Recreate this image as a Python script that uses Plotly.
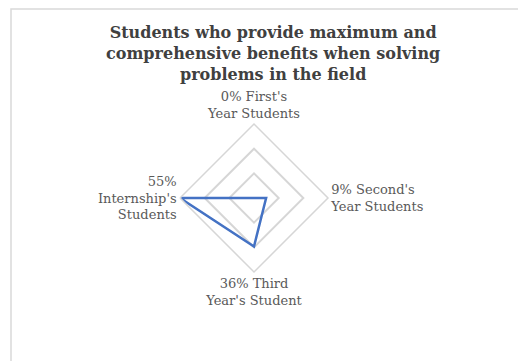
import plotly.graph_objects as go

categories = ["0% First's<br>Year Students", "9% Second's<br>Year Students",
              "36% Third<br>Year's Student", "55%<br>Internship's<br>Students"]
values = [0, 9, 36, 55]
title_text = ("Students who provide maximum and<br>comprehensive benefits when solving"
              "<br>problems in the field")
r_max = 55
ring_vals = [r_max / 3, 2 * r_max / 3, r_max]

fig = go.Figure()
fig.add_trace(go.Scatterpolar(
    r=values + values[:1],
    theta=categories + categories[:1],
    mode="lines",
    line=dict(color="#4472C4", width=2.5),
    hoverinfo="skip",
))

W, H = 518, 361
R = 74
cx, cy = 254, 198
fig.update_layout(
    width=W, height=H,
    margin=dict(l=0, r=0, t=0, b=0),
    paper_bgcolor="white",
    showlegend=False,
    annotations=[dict(text=title_text, xref="paper", yref="paper", x=273 / W, xanchor="center",
                      y=1 - 21 / H, yanchor="top", showarrow=False, align="center",
                      font=dict(family="DejaVu Serif", size=16, color="#404040", weight="bold"))],
    polar=dict(
        domain=dict(x=[(cx - R) / W, (cx + R) / W], y=[1 - (cy + R) / H, 1 - (cy - R) / H]),
        gridshape="linear",
        bgcolor="white",
        radialaxis=dict(range=[0, r_max], tickvals=ring_vals, showticklabels=False,
                        showline=False, ticks="", gridcolor="#d6d6d6", gridwidth=1.5),
        angularaxis=dict(rotation=90, direction="clockwise", showgrid=False,
                         showline=True, linecolor="#d6d6d6", linewidth=1.5, ticks="",
                         tickfont=dict(family="DejaVu Serif", size=13, color="#595959")),
    ),
    shapes=[dict(type="rect", xref="paper", yref="paper", x0=11 / W, x1=1.2,
                 y0=-0.2, y1=1 - 9 / H, line=dict(color="#d9d9d9", width=1.5),
                 fillcolor="rgba(0,0,0,0)")],
)

fig.write_html("out.html")
